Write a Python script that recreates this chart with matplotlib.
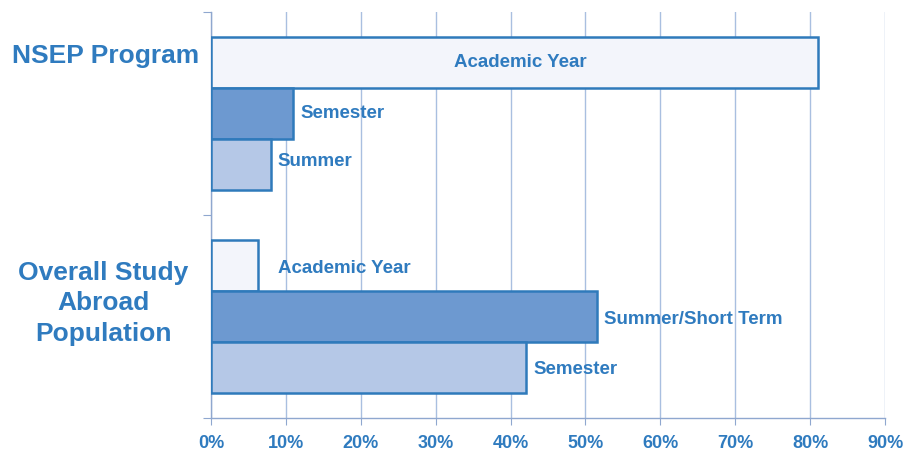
import numpy as np
import matplotlib.pyplot as plt

plt.rcParams['font.family'] = ['Liberation Sans', 'DejaVu Sans']

# data
groups = ['NSEP Program', 'Overall Study\nAbroad\nPopulation']
nsep_labels = ['Academic Year', 'Semester', 'Summer']
nsep_values = [81, 11, 8]
overall_labels = ['Academic Year', 'Summer/Short Term', 'Semester']
overall_values = [6.3, 51.5, 42]
xticks = [0, 10, 20, 30, 40, 50, 60, 70, 80, 90]

text_blue = '#2f7bbf'
edge_blue = '#2f7abb'
grid_blue = '#a9bfe0'
nsep_fill = ['#f3f5fb', '#6d99d0', '#b5c8e7']
overall_fill = ['#f3f5fb', '#6d99d0', '#b5c8e7']

fig = plt.figure(figsize=(9.08, 4.51), dpi=100)
ax = fig.add_axes([0.2324, 0.0732, 0.7423, 0.9002])

nsep_y = [7, 6, 5]
overall_y = [3, 2, 1]

for val, y, c in zip(nsep_values, nsep_y, nsep_fill):
    ax.barh(y, val, height=1.0, color=c, edgecolor=edge_blue, linewidth=1.8, zorder=3)
for val, y, c in zip(overall_values, overall_y, overall_fill):
    ax.barh(y, val, height=1.0, color=c, edgecolor=edge_blue, linewidth=1.8, zorder=3)

lab_kw = dict(color=text_blue, fontsize=13.5, fontweight='bold', va='center', zorder=4)
# NSEP labels
ax.text(41.3, nsep_y[0], nsep_labels[0], ha='center', **lab_kw)
ax.text(nsep_values[1] + 1, nsep_y[1], nsep_labels[1], ha='left', **lab_kw)
ax.text(nsep_values[2] + 0.9, nsep_y[2] + 0.05, nsep_labels[2], ha='left', **lab_kw)
# Overall labels
ax.text(8.9, overall_y[0] - 0.05, overall_labels[0], ha='left', **lab_kw)
ax.text(overall_values[1] + 1, overall_y[1] - 0.05, overall_labels[1], ha='left', **lab_kw)
ax.text(overall_values[2] + 1, overall_y[2] - 0.05, overall_labels[2], ha='left', **lab_kw)

ax.set_xlim(0, 90)
ax.set_ylim(0, 8)
ax.set_xticks(xticks)
ax.set_xticklabels([f'{t}%' for t in xticks])
ax.set_yticks([0, 4, 8])
ax.set_yticklabels([])
ax.grid(axis='x', color=grid_blue, linewidth=1.0, zorder=0)
ax.set_axisbelow(True)

for s in ['top', 'right']:
    ax.spines[s].set_visible(False)
for s in ['left', 'bottom']:
    ax.spines[s].set_color('#8fa7cf')
    ax.spines[s].set_linewidth(1.0)
ax.tick_params(axis='x', colors='#8fa7cf', length=5, labelcolor=text_blue,
               labelsize=13, pad=7)
ax.tick_params(axis='y', colors='#8fa7cf', length=6)
for t in ax.get_xticklabels():
    t.set_fontweight('bold')

# group labels
ax.text(-14.1, 7.13, groups[0], ha='center', va='center', color=text_blue,
        fontsize=19, fontweight='bold', clip_on=False)
ax.text(-14.4, 2.26, groups[1], ha='center', va='center', color=text_blue,
        fontsize=19, fontweight='bold', linespacing=1.33, clip_on=False)

fig.savefig('out.png', dpi=100)
